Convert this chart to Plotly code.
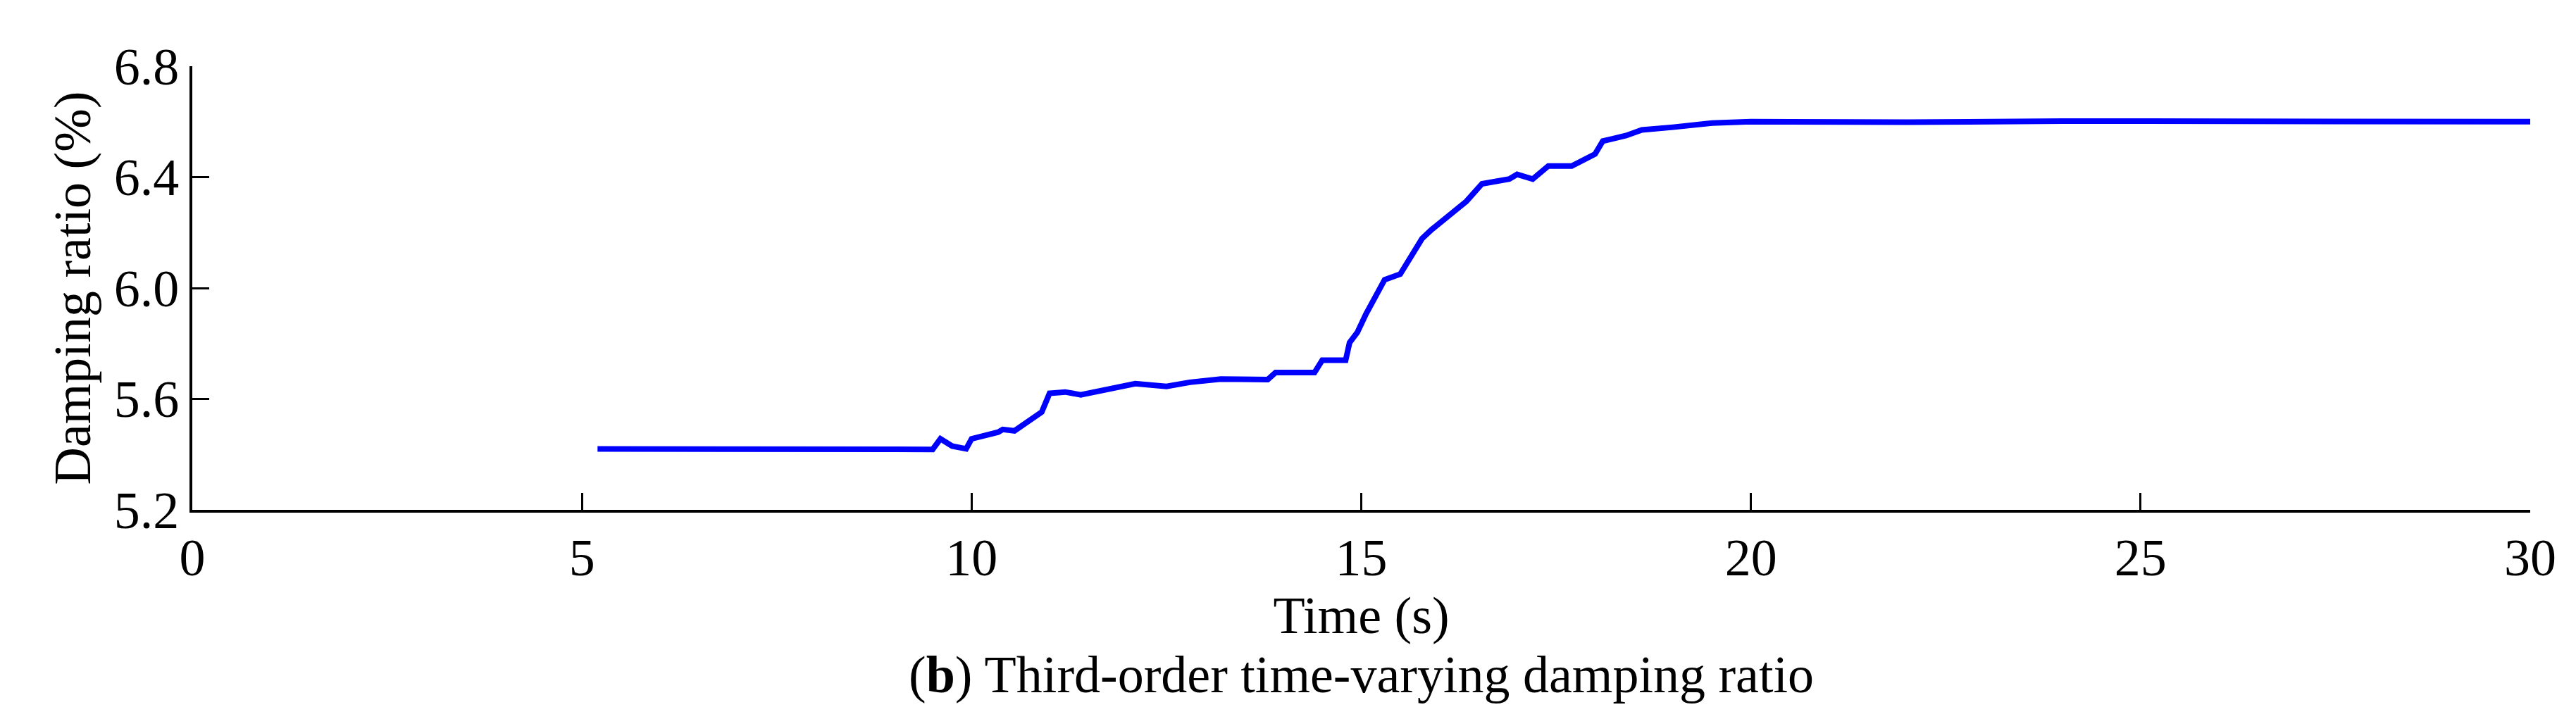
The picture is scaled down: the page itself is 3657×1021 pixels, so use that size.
import plotly.graph_objects as go

time_s = [5.2, 6.0, 7.0, 7.5, 8.0, 8.5, 9.0, 9.5, 9.6, 9.75, 9.93, 10.0, 10.34, 10.4, 10.55, 10.9, 11.0, 11.2, 11.4,
          12.1, 12.5, 12.8, 13.2, 13.8, 13.9, 14.4, 14.5, 14.8, 14.85, 14.95, 15.06, 15.16, 15.3, 15.5,
          15.65, 15.78, 15.9, 16.1, 16.35, 16.55, 16.9, 17.0, 17.2, 17.4, 17.7, 18.0, 18.1, 18.4, 18.6,
          19.0, 19.5, 20.0, 22.0, 24.0, 26.0, 28.0, 30.0]
damping = [5.42, 5.42, 5.42, 5.415, 5.418, 5.415, 5.418, 5.418, 5.456, 5.43, 5.42, 5.456, 5.48, 5.49, 5.485, 5.553, 5.62, 5.625, 5.615,
           5.655, 5.645, 5.66, 5.672, 5.67, 5.695, 5.695, 5.74, 5.74, 5.803, 5.84, 5.906, 5.96, 6.03, 6.05,
           6.12, 6.178, 6.21, 6.257, 6.313, 6.376, 6.393, 6.41, 6.393, 6.44, 6.44, 6.483, 6.53, 6.55, 6.57,
           6.58, 6.595, 6.60, 6.598, 6.602, 6.60, 6.60, 6.60]

x_ticks = [0, 5, 10, 15, 20, 25, 30]
y_ticks = [5.2, 5.6, 6.0, 6.4, 6.8]

fig = go.Figure(go.Scatter(x=time_s, y=damping, mode="lines", line=dict(color="#0000ff", width=8), showlegend=False))
font = "Liberation Serif, Times New Roman, serif"
axis_common = dict(showline=True, linecolor="black", linewidth=4, ticks="inside", ticklen=24, tickwidth=3,
                   tickcolor="black", showgrid=False, zeroline=False, mirror=False,
                   tickfont=dict(family=font, size=74, color="black"))
fig.update_xaxes(range=[0, 30], tickvals=x_ticks, ticktext=[str(v) for v in x_ticks],
                 title=dict(text="Time (s)", font=dict(family=font, size=74, color="black"), standoff=0), **axis_common)
fig.update_yaxes(range=[5.2, 6.8], tickvals=y_ticks, ticktext=[f"{v:.1f}" for v in y_ticks],
                 title=dict(text="Damping ratio (%)", font=dict(family=font, size=74, color="black"), standoff=10), **axis_common)
fig.add_annotation(text="(<b>b</b>) Third-order time-varying damping ratio", xref="paper", yref="paper",
                   x=0.5, y=-0.372, xanchor="center", yanchor="middle", showarrow=False,
                   font=dict(family=font, size=74, color="black"))
fig.update_layout(width=3657, height=1021, margin=dict(l=265, r=73, t=86, b=305),
                  paper_bgcolor="white", plot_bgcolor="white")
fig.write_html("out.html")
